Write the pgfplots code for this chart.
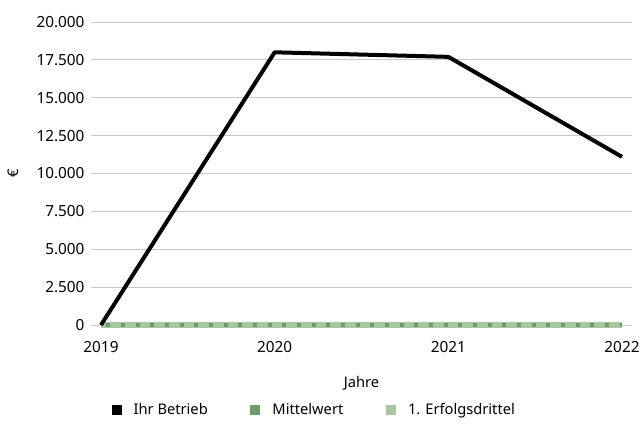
\documentclass[border=0pt]{standalone}
\usepackage{pgfplots}
\pgfplotsset{compat=1.18}
\usepackage{fontspec}
\setmainfont{Noto Sans}
\definecolor{mw}{HTML}{6F9A6C}
\definecolor{ed}{HTML}{A6C7A0}
\definecolor{gridc}{HTML}{C8C8C8}
\begin{document}
\fontsize{11pt}{13pt}\selectfont
\begin{tikzpicture}
\begin{axis}[
  scale only axis,
  width=390.75pt, height=227.25pt,
  xmin=2019, xmax=2022, ymin=0, ymax=20000,
  xtick={2019,2020,2021,2022},
  xticklabels={2019,2020,2021,2022},
  ytick distance=2500,
  axis line style={draw=none},
  ymajorgrids, grid style={gridc, line width=0.6pt},
  major tick length=7.5pt,
  tick align=outside,
  xtick style={draw=none},
  ytick style={gridc, line width=0.6pt},
  tick label style={font=\fontsize{11.5pt}{13pt}\selectfont},
  /pgf/number format/assume math mode=true,
  yticklabel style={/pgf/number format/fixed, /pgf/number format/use comma, /pgf/number format/1000 sep={.}, /tikz/xshift=-1pt},
  xticklabel style={/tikz/yshift=-1pt},
  ylabel={€},
  ylabel style={yshift=6pt},
  xlabel={Jahre},
  xlabel style={yshift=-10pt},
  scaled y ticks=false,
  clip=false,
  legend columns=3,
  legend style={draw=none, at={(0.41,-0.28)}, anchor=center, /tikz/every even column/.style={column sep=30pt}, /tikz/every odd column/.style={column sep=7pt}, font=\fontsize{11pt}{13pt}\selectfont},
  legend cell align=left,
]
\addplot[ed, line width=3.8pt, forget plot] coordinates {(2019,0) (2020,0) (2021,0) (2022,0)};
\addplot[mw, line width=2.6pt, dash pattern=on 3pt off 8pt, dash phase=-4pt, forget plot] coordinates {(2019,0) (2020,0) (2021,0) (2022,0)};
\addplot[black, line width=3pt, line join=round, legend image code/.code={\fill[black, draw=none, line width=0pt, solid] (0pt,-3.75pt) rectangle (7.5pt,3.75pt);}] coordinates {(2019,0) (2020,18000) (2021,17700) (2022,11100)};
\addlegendentry{Ihr Betrieb}
\addlegendimage{legend image code/.code={\fill[mw, draw=none] (0pt,-3.75pt) rectangle (7.5pt,3.75pt);}}
\addlegendentry{Mittelwert}
\addlegendimage{legend image code/.code={\fill[ed, draw=none] (0pt,-3.75pt) rectangle (7.5pt,3.75pt);}}
\addlegendentry{1. Erfolgsdrittel}
\end{axis}
\pgfresetboundingbox
\path ([xshift=-75.75pt,yshift=-75.75pt]current axis.south west) rectangle ([xshift=15pt,yshift=16.5pt]current axis.north east);
\end{tikzpicture}
\end{document}
